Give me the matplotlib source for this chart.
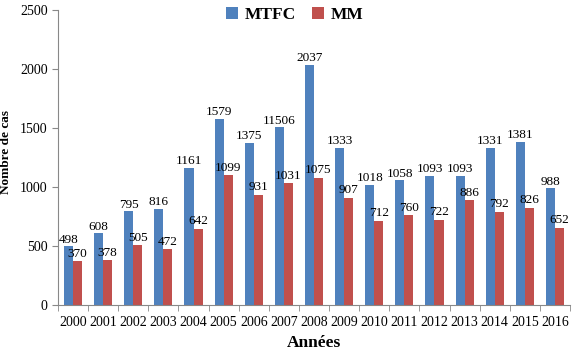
import numpy as np
import matplotlib.pyplot as plt

years = [str(y) for y in range(2000, 2017)]
mtfc = [498, 608, 795, 816, 1161, 1579, 1375, 1506, 2037, 1333, 1018, 1058, 1093, 1093, 1331, 1381, 988]
mm = [370, 378, 505, 472, 642, 1099, 931, 1031, 1075, 907, 712, 760, 722, 886, 792, 826, 652]
# labels as printed on the original (2007 shows "11506")
mtfc_labels = ["498", "608", "795", "816", "1161", "1579", "1375", "11506", "2037", "1333",
               "1018", "1058", "1093", "1093", "1331", "1381", "988"]
mm_labels = [str(v) for v in mm]

plt.rcParams['font.family'] = ['Liberation Serif', 'DejaVu Serif']

fig = plt.figure(figsize=(5.83, 3.51), dpi=100)
ax = fig.add_axes([58 / 583, 1 - 305 / 351, 512 / 583, 295 / 351])

x = np.arange(len(years))
w = 0.3
blue = "#4F81BD"
red = "#C0504D"
b1 = ax.bar(x - w / 2, mtfc, w, color=blue, label="MTFC")
b2 = ax.bar(x + w / 2, mm, w, color=red, label="MM")

for i in range(len(years)):
    ax.text(x[i] - w / 2, mtfc[i] + 5, mtfc_labels[i], ha="center", va="bottom", fontsize=9.5)
    ax.text(x[i] + w / 2, mm[i] + 15, mm_labels[i], ha="center", va="bottom", fontsize=9.5)

ax.set_xlim(-0.5, len(years) - 0.5)
ax.set_ylim(0, 2500)
ax.set_yticks([0, 500, 1000, 1500, 2000, 2500])
ax.set_xticks(x)
ax.set_xticklabels(years, fontsize=10)
ax.set_xticks(np.arange(-0.5, len(years)), minor=True)
ax.tick_params(axis="x", which="major", length=0, pad=8)
ax.tick_params(axis="x", which="minor", length=4, color="#888888")
ax.tick_params(axis="y", length=4, color="#888888", labelsize=10)

for s in ["top", "right"]:
    ax.spines[s].set_visible(False)
ax.spines["left"].set_color("#888888")
ax.spines["bottom"].set_color("#888888")

ax.set_xlabel("Années", fontsize=12.5, fontweight="bold", labelpad=4)
fig.text(6 / 583, 1 - 152 / 351, "Nombre de cas", rotation=90, ha="center", va="center",
         fontsize=9.5, fontweight="bold")

fig.legend(handles=[b1, b2], loc="center", bbox_to_anchor=(295 / 583, 1 - 15 / 351), ncol=2,
           frameon=False, prop={"weight": "bold", "size": 12.5}, handlelength=0.7, handleheight=0.7,
           columnspacing=0.9, handletextpad=0.4)

fig.savefig("out.png", dpi=100)
